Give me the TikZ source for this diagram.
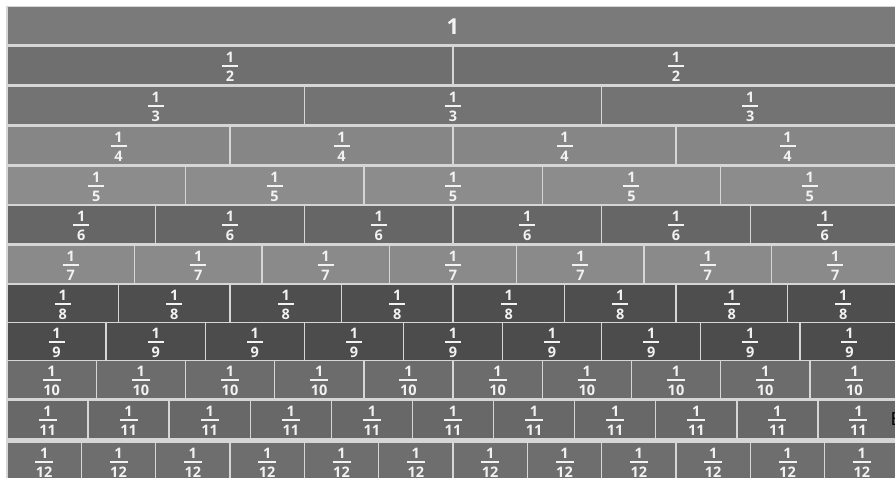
\documentclass[tikz,border=0pt]{standalone}
\usepackage{fontspec}
\setmainfont{Open Sans}[BoldFont={Open Sans Bold}]
\definecolor{rA}{HTML}{7A7A7A}
\definecolor{rB}{HTML}{6F6F6F}
\definecolor{rC}{HTML}{737373}
\definecolor{rD}{HTML}{868686}
\definecolor{rE}{HTML}{8C8C8C}
\definecolor{rF}{HTML}{666666}
\definecolor{rG}{HTML}{8A8A8A}
\definecolor{rH}{HTML}{4E4E4E}
\definecolor{rI}{HTML}{4C4C4C}
\definecolor{rJ}{HTML}{6C6C6C}
\definecolor{rK}{HTML}{686868}
\definecolor{rL}{HTML}{6E6E6E}
\definecolor{gapc}{HTML}{D6D6D6}
\definecolor{txt}{HTML}{F2F2F2}
\begin{document}
\begin{tikzpicture}[x=1pt,y=-1pt,
  digit/.style={anchor=base,inner sep=0pt,text=txt,font=\fontsize{14.5}{14.5}\selectfont\bfseries},
  bigdigit/.style={anchor=base,inner sep=0pt,text=txt,font=\fontsize{22}{22}\selectfont\bfseries},
  fracbar/.style={draw=txt,line width=1.8pt}]
\useasboundingbox (0,0) rectangle (895,478);
\clip (0,0) rectangle (895,478);
\fill[white] (0,0) rectangle (895,478);
\fill[gapc] (6,6.5) rectangle (900,480);
\def\L{7}
\def\W{892}
\foreach \d/\t/\c in {1/7.5/rA,2/47/rB,3/87/rC,4/127/rD,5/167/rE,6/206/rF,7/246/rG,8/285/rH,9/323/rI,10/361/rJ,11/401/rK,12/443/rL}{
  \foreach \k in {1,...,\d}{
    \pgfmathsetmacro\xa{\L+(\k-1)*\W/\d}
    \pgfmathsetmacro\xb{\L+\k*\W/\d}
    \pgfmathsetmacro\cx{\L+(\k-0.5)*\W/\d}
    \fill[\c] (\xa+0.7,\t) rectangle (\xb-0.7,\t+37);
    \ifnum\d>1
      \node[digit] (n\d-\k) at (\cx,\t+15.5) {1};
      \node[digit] (d\d-\k) at (\cx,\t+34.5) {\d};
      \ifnum\d>9
        \draw[fracbar] (\cx-9,\t+19) -- (\cx+9,\t+19);
      \else
        \draw[fracbar] (\cx-8,\t+19) -- (\cx+8,\t+19);
      \fi
    \fi
  }
}
\node[bigdigit] (one) at (453,35) {1};
\node[anchor=base west,inner sep=0pt,text=black,font=\fontsize{18}{18}\selectfont] (stray) at (890.5,426) {E};
\end{tikzpicture}
\end{document}
